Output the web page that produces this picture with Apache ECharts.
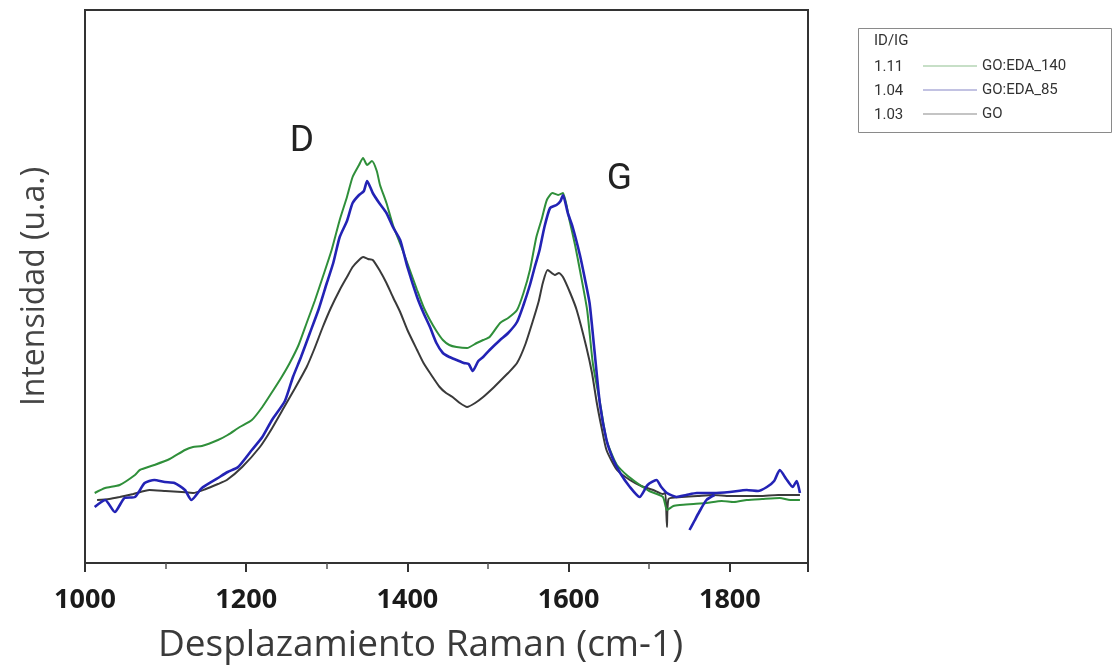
<!DOCTYPE html>
<html>
<head>
<meta charset="utf-8">
<script src="https://cdn.jsdelivr.net/npm/echarts@6/dist/echarts.min.js"></script>
<style>
html,body{margin:0;padding:0;background:#fff;}
#chart{width:1118px;height:669px;}
</style>
</head>
<body>
<div id="chart"></div>
<script>
// Raman shift (cm-1) / intensity (u.a.) pairs
const seriesNames = ['GO:EDA_140', 'GO:EDA_85', 'GO'];
const ratioTitle = 'ID/IG';
const ratioValues = ['1.11', '1.04', '1.03'];
const tickLabels = ['1000', '1200', '1400', '1600', '1800'];
const peakLabels = [
  { name: 'D', x: 1269, y: 421 },
  { name: 'G', x: 1663, y: 383 }
];

const goEda140 = [
  [1012,70],[1025,75],[1043,78],[1062,88],[1068,93],[1086,98],[1105,104],[1124,113],
  [1134,116],[1145,117],[1165,123],[1177,128],[1192,136],[1207,143],[1220,156],[1233,172],
  [1244,186],[1254,200],[1265,218],[1275,240],[1285,262],[1295,286],[1306,313],[1316,343],
  [1325,366],[1332,386],[1340,398],[1345,405],[1350,398],[1356,402],[1362,392],[1366,378],
  [1374,360],[1382,338],[1394,313],[1403,293],[1412,273],[1420,256],[1428,243],[1436,232],
  [1444,223],[1452,218],[1461,216],[1474,215],[1486,220],[1494,223],[1502,226],[1515,240],
  [1525,245],[1536,253],[1544,270],[1552,293],[1560,326],[1567,345],[1573,363],[1580,370],
  [1587,368],[1593,370],[1601,343],[1608,318],[1614,293],[1623,253],[1630,200],[1639,160],
  [1647,123],[1655,106],[1660,98],[1672,88],[1685,80],[1700,72],[1717,66],[1722,53],
  [1730,57],[1738,58],[1755,59],[1771,60],[1790,62],[1805,61],[1821,63],[1840,64],
  [1862,65],[1875,63],[1887,63]
];

const goEda85 = [
  [1012,56],[1025,63],[1037,51],[1049,65],[1062,66],[1074,80],[1086,83],[1099,81],
  [1111,80],[1124,73],[1132,63],[1145,75],[1165,85],[1177,91],[1190,96],[1207,113],
  [1220,126],[1232,143],[1248,162],[1258,186],[1268,206],[1279,230],[1290,254],[1300,280],
  [1308,300],[1316,326],[1325,342],[1332,360],[1340,368],[1346,372],[1350,382],[1357,370],
  [1365,360],[1374,350],[1382,336],[1391,323],[1400,296],[1412,266],[1420,250],[1428,236],
  [1436,220],[1444,210],[1452,206],[1461,203],[1470,200],[1476,199],[1481,192],[1488,202],
  [1494,206],[1502,213],[1515,223],[1525,230],[1536,241],[1544,258],[1552,278],[1558,296],
  [1564,313],[1570,336],[1577,355],[1585,358],[1590,362],[1593,368],[1599,350],[1605,336],
  [1614,308],[1620,285],[1626,260],[1632,213],[1639,158],[1647,123],[1655,104],[1664,90],
  [1676,76],[1688,66],[1698,78],[1709,83],[1715,76],[1722,70],[1734,66],[1746,68],
  [1759,70],[1779,70],[1800,71],[1821,73],[1835,72],[1846,76],[1855,82],[1862,93],
  [1870,84],[1878,76],[1883,82],[1887,70],
  [1750,null],
  [1750,33],[1756,42],[1762,51],[1771,63],[1781,68]
];

const goPlain = [
  [1015,63],[1030,64],[1043,66],[1060,69],[1080,73],[1100,72],[1120,71],[1134,70],
  [1150,74],[1165,79],[1176,83],[1195,96],[1217,116],[1230,132],[1245,153],[1260,174],
  [1275,196],[1285,215],[1295,236],[1305,255],[1316,273],[1325,286],[1332,296],[1340,303],
  [1345,306],[1351,304],[1357,303],[1366,292],[1374,280],[1382,266],[1391,251],[1400,233],
  [1412,213],[1420,200],[1428,190],[1440,176],[1448,170],[1456,166],[1465,160],[1474,156],
  [1484,160],[1494,166],[1505,174],[1515,182],[1525,190],[1536,200],[1546,218],[1556,243],
  [1563,262],[1568,280],[1574,293],[1583,288],[1588,290],[1593,286],[1602,270],[1610,253],
  [1622,216],[1629,190],[1635,160],[1641,135],[1647,113],[1660,93],[1676,83],[1690,77],
  [1705,73],[1717,69],[1720,70],[1722,36],[1724,64],[1740,66],[1760,67],[1779,68],
  [1800,67],[1837,67],[1860,68],[1887,68]
];

const lineColors = ['#2f8f3a', '#2323b5', '#3a3a3a'];
const legendColors = ['#8fc08f', '#8585c5', '#8a8a8a'];

const chart = echarts.init(document.getElementById('chart'), null, { renderer: 'canvas' });

const option = {
  backgroundColor: '#ffffff',
  animation: false,
  grid: {
    left: 85, right: 310, top: 10, bottom: 106,
    show: true, borderColor: '#333', borderWidth: 2, backgroundColor: 'transparent'
  },
  legend: {
    orient: 'vertical',
    left: 918, top: 49,
    icon: 'rect', itemWidth: 54, itemHeight: 1, itemGap: 0,
    textStyle: { fontFamily: 'Roboto', fontSize: 15, color: '#333', lineHeight: 24 },
    selectedMode: false,
    data: seriesNames.map((n, i) => ({ name: n, itemStyle: { color: legendColors[i] } }))
  },
  xAxis: {
    type: 'value', min: 1000, max: 1897, interval: 200,
    name: 'Desplazamiento Raman (cm-1)', nameLocation: 'middle', nameGap: 64,
    nameTextStyle: { fontFamily: 'Open Sans', fontSize: 37, color: '#3a3a3a', padding: [0, 52, 0, 0] },
    axisLine: { show: true, lineStyle: { color: '#333', width: 2 } },
    axisTick: { show: true, length: 9, lineStyle: { color: '#333', width: 2 } },
    minorTick: { show: true, splitNumber: 2, length: 6, lineStyle: { color: '#555', width: 1.5 } },
    splitLine: { show: false },
    axisLabel: {
      margin: 24, fontFamily: 'Open Sans', fontWeight: 'bold', fontSize: 27, color: '#1a1a1a',
      formatter: v => tickLabels.includes(String(v)) ? String(v) : ''
    }
  },
  yAxis: {
    type: 'value', min: 0, max: 553,
    name: 'Intensidad (u.a.)', nameLocation: 'middle', nameGap: 34, nameRotate: 90,
    nameTextStyle: { fontFamily: 'Open Sans', fontSize: 32, color: '#444' },
    axisLine: { show: true, lineStyle: { color: '#333', width: 2 } },
    axisTick: { show: false }, axisLabel: { show: false }, splitLine: { show: false }
  },
  series: [
    {
      name: seriesNames[0], type: 'line', data: goEda140, showSymbol: false, smooth: 0.2,
      lineStyle: { color: lineColors[0], width: 2 }, itemStyle: { color: lineColors[0] },
      markPoint: {
        symbol: 'circle', symbolSize: 0, silent: true,
        label: { show: true, fontFamily: 'Roboto', fontSize: 37, color: '#222', position: 'inside', formatter: p => p.name },
        data: peakLabels.map(p => ({ name: p.name, coord: [p.x, p.y] }))
      },
      z: 3
    },
    {
      name: seriesNames[1], type: 'line', data: goEda85, showSymbol: false, smooth: 0.2, connectNulls: false,
      lineStyle: { color: lineColors[1], width: 2.6 }, itemStyle: { color: lineColors[1] }, z: 4
    },
    {
      name: seriesNames[2], type: 'line', data: goPlain, showSymbol: false, smooth: 0.2,
      lineStyle: { color: lineColors[2], width: 2 }, itemStyle: { color: lineColors[2] }, z: 2
    }
  ],
  graphic: [
    { type: 'rect', left: 858, top: 28, shape: { width: 253, height: 104 },
      style: { fill: '#fff', stroke: '#8a8a8a', lineWidth: 1 }, z: -1 },
    { type: 'text', left: 874, top: 34, style: { text: ratioTitle, font: '15px Roboto', fill: '#333' } },
    ...ratioValues.map((v, i) => ({ type: 'text', left: 874, top: 60 + i * 24,
      style: { text: v, font: '15px Roboto', fill: '#333' } }))
  ]
};
chart.setOption(option);
</script>
</body>
</html>
